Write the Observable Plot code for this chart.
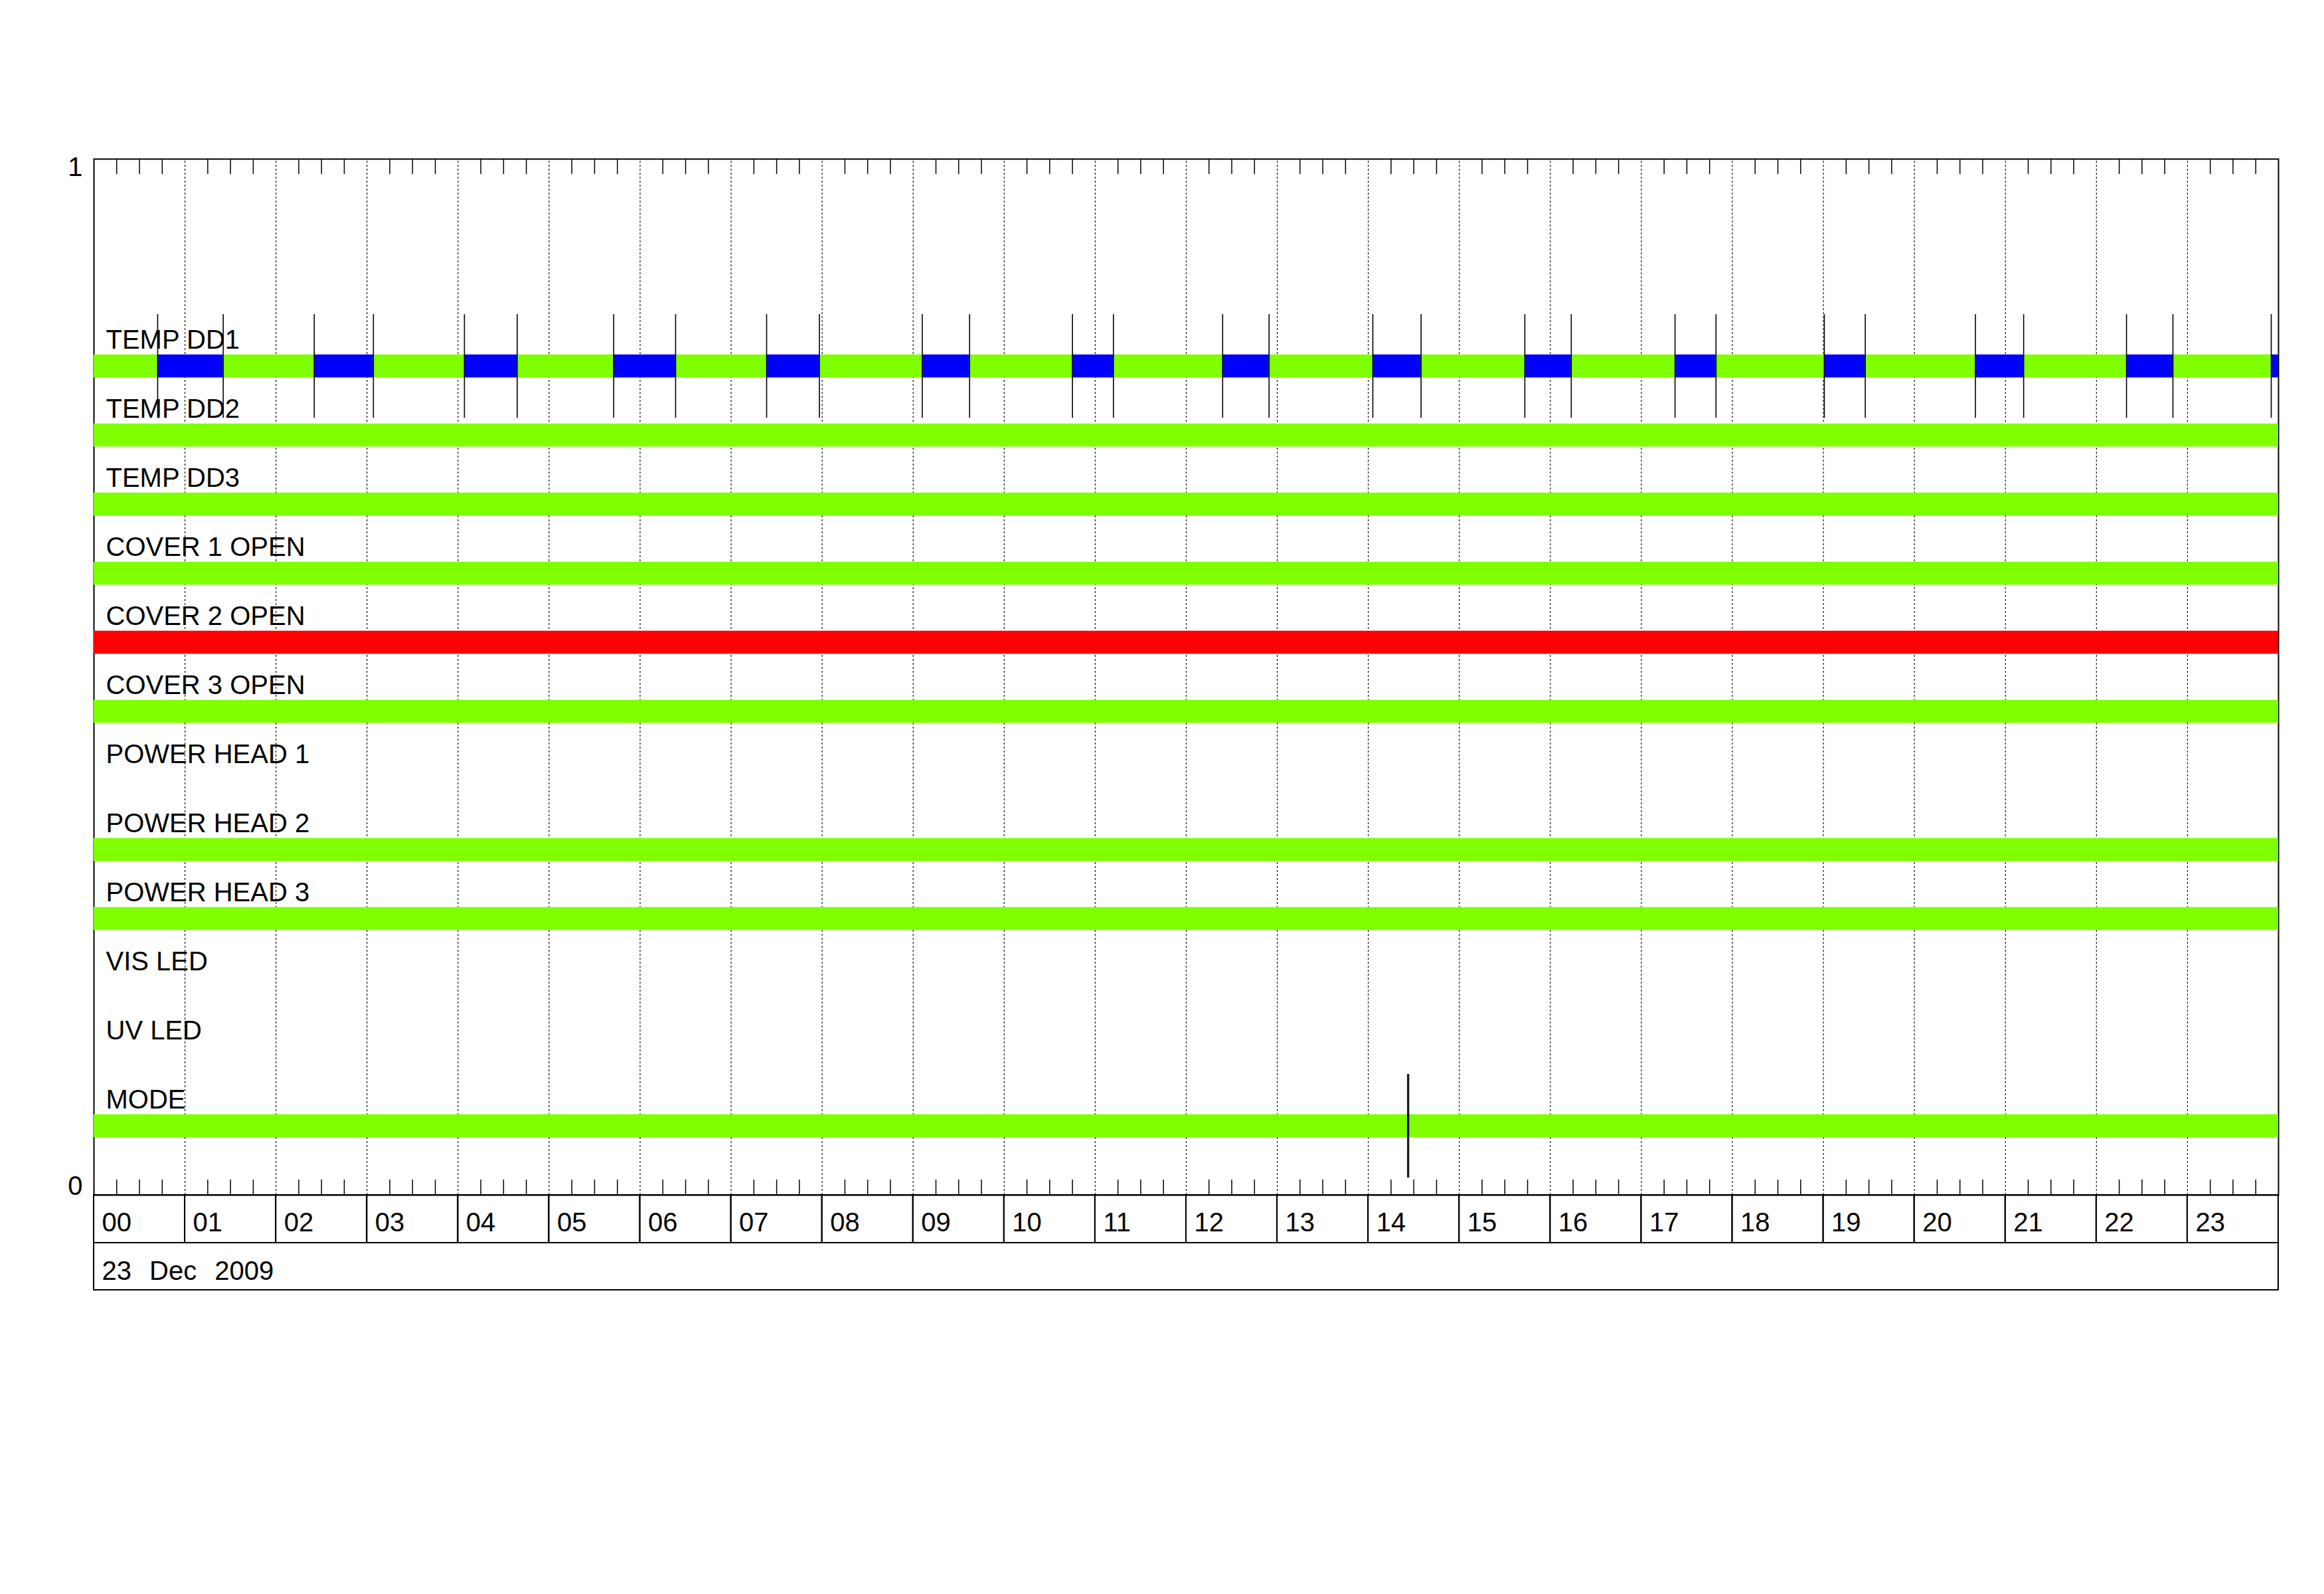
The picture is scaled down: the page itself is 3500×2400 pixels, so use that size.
<!DOCTYPE html>
<html>
<head>
<meta charset="utf-8">
<script src="https://cdn.jsdelivr.net/npm/d3@7"></script>
<script src="https://cdn.jsdelivr.net/npm/@observablehq/plot@0.6"></script>
<style>
  html, body { margin: 0; padding: 0; background: #fff; }
</style>
</head>
<body>
<div id="chart"></div>
<script>
// ---------- data ----------
const rowLabels = ["TEMP DD1", "TEMP DD2", "TEMP DD3", "COVER 1 OPEN", "COVER 2 OPEN", "COVER 3 OPEN",
                   "POWER HEAD 1", "POWER HEAD 2", "POWER HEAD 3", "VIS LED", "UV LED", "MODE"];
const rowStatus = ["cycle", "ok", "ok", "ok", "alarm", "ok", "none", "ok", "ok", "none", "none", "mode"];
const hourLabels = ["00","01","02","03","04","05","06","07","08","09","10","11",
                    "12","13","14","15","16","17","18","19","20","21","22","23"];
const dateLabel = "23 Dec 2009";
const yTickValues = [0, 1];
const yTickLabels = ["0", "1"];
// TEMP DD1: intervals (hours) in the blue state
const dd1BlueStart = [0.70, 2.42, 4.07, 5.71, 7.39, 9.10, 10.75, 12.40, 14.05, 15.72, 17.37, 19.01, 20.67, 22.33, 23.92];
const dd1BlueEnd   = [1.42, 3.07, 4.65, 6.39, 7.97, 9.62, 11.20, 12.91, 14.58, 16.23, 17.82, 19.46, 21.20, 22.84, 24.00];
// MODE: brief change around 14:26
const modeChangeStart = [14.432];
const modeChangeEnd   = [14.444];

const states = ["ok", "warn", "alarm", "none", "spike"];
const stateColors = ["#7fff00", "#0000ff", "#ff0000", "#ffffff", "#000000"];

// ---------- layout ----------
const W = 3500, H = 2400;
const mL = 141, mR = 69, mT = 239, mB = 601;
const plotH = H - mT - mB;            // pixels for y in [0,1]
const n = rowLabels.length;
const rowY = i => (n - i) / (n + 3);  // row centres
const barHalf = (1 / (n + 3)) / 6;    // half bar thickness
const ruleHalf = 0.05;                // half length of transition marks
const tickLen = 23 / plotH;
const cellH = 72 / plotH;             // hour label cell height
const dateH = 71 / plotH;             // date cell height
const T0 = 0, T1 = 24;

// ---------- build segments ----------
const segments = [];
const transitions = [];
rowStatus.forEach((st, i) => {
  const y = rowY(i);
  let segs = [];
  if (st === "cycle") {
    let prev = T0;
    dd1BlueStart.forEach((s, k) => {
      if (s > prev) segs.push({start: prev, end: s, state: "ok"});
      segs.push({start: s, end: dd1BlueEnd[k], state: "warn"});
      prev = dd1BlueEnd[k];
    });
    if (prev < T1) segs.push({start: prev, end: T1, state: "ok"});
  } else if (st === "mode") {
    let prev = T0;
    modeChangeStart.forEach((s, k) => {
      segs.push({start: prev, end: s, state: "ok"});
      segs.push({start: s, end: modeChangeEnd[k], state: "spike"});
      prev = modeChangeEnd[k];
    });
    segs.push({start: prev, end: T1, state: "ok"});
  } else {
    segs.push({start: T0, end: T1, state: st});
  }
  segs.forEach((s, k) => {
    segments.push({...s, row: i, y});
    if (k > 0) transitions.push({t: s.start, y});
  });
});
const filled = segments.filter(d => d.state !== "none");
const empty = segments.filter(d => d.state === "none");
const quarterTicks = d3.range(0, 24 * 4).map(q => q / 4).filter(q => q % 1 !== 0);
const hourCells = hourLabels.map((lab, h) => ({h, lab}));
const rowText = rowLabels.map((lab, i) => ({lab, y: rowY(i)}));
const yTicks = yTickValues.map((v, k) => ({v, lab: yTickLabels[k]}));

const chart = Plot.plot({
  width: W, height: H,
  marginLeft: mL, marginRight: mR, marginTop: mT, marginBottom: mB,
  x: {domain: [T0, T1], axis: null},
  y: {domain: [0, 1], axis: null},
  color: {domain: states, range: stateColors},
  style: {fontFamily: "'Liberation Sans', Arial, sans-serif", fontSize: "40px", background: "#fff", color: "#000"},
  marks: [
    Plot.frame({stroke: "#000", strokeWidth: 2}),
    // empty rows
    Plot.rect(empty, {x1: "start", x2: "end", y1: d => d.y - barHalf, y2: d => d.y + barHalf,
                      fill: "state", insetLeft: -4, insetRight: -4}),
    // dashed hour grid
    Plot.ruleX(d3.range(1, 24), {y1: 0, y2: 1, stroke: "#111", strokeWidth: 1.2, strokeDasharray: "3,3"}),
    // quarter-hour minor ticks top and bottom
    Plot.ruleX(quarterTicks, {y1: 1, y2: 1 - tickLen, stroke: "#000", strokeWidth: 1.5}),
    Plot.ruleX(quarterTicks, {y1: 0, y2: tickLen, stroke: "#000", strokeWidth: 1.5}),
    // status bars
    Plot.rect(filled, {x1: "start", x2: "end", y1: d => d.y - barHalf, y2: d => d.y + barHalf, fill: "state"}),
    // transition markers
    Plot.ruleX(transitions, {x: "t", y1: d => d.y - ruleHalf, y2: d => d.y + ruleHalf, stroke: "#000", strokeWidth: 1.6}),
    // row labels
    Plot.text(rowText, {y: "y", text: "lab", frameAnchor: "left", textAnchor: "start", dx: 18, dy: -39,
                        lineAnchor: "middle", fontSize: 40, fill: "#000"}),
    // y labels 0 / 1
    Plot.text(yTicks.filter(d => d.v === 1), {y: "v", text: "lab", frameAnchor: "left", textAnchor: "end",
                        dx: -17, dy: 13, lineAnchor: "middle", fontSize: 40, fill: "#000"}),
    Plot.text(yTicks.filter(d => d.v === 0), {y: "v", text: "lab", frameAnchor: "left", textAnchor: "end",
                        dx: -17, dy: -13, lineAnchor: "middle", fontSize: 40, fill: "#000"}),
    // hour label cells
    Plot.rect(hourCells, {x1: "h", x2: d => d.h + 1, y1: -cellH, y2: 0, fill: "none", stroke: "#000", strokeWidth: 2}),
    Plot.text(hourCells, {x: "h", y: -cellH / 2, text: "lab", textAnchor: "start", dx: 12, dy: 6,
                          lineAnchor: "middle", fontSize: 40, fill: "#000"}),
    // date cell
    Plot.rect([dateLabel], {x1: T0, x2: T1, y1: -cellH - dateH, y2: -cellH, fill: "none", stroke: "#000", strokeWidth: 2}),
    Plot.text([dateLabel], {x: T0, y: -cellH - dateH / 2, text: d => d, textAnchor: "start", dx: 12, dy: 7,
                            lineAnchor: "middle", fontSize: 40, fill: "#000"})
  ]
});
// wider word spacing for the date text, as in the original
d3.select(chart).selectAll("text").filter(function () { return this.textContent === dateLabel; })
  .style("word-spacing", "16px");
document.getElementById("chart").appendChild(chart);
</script>
</body>
</html>
